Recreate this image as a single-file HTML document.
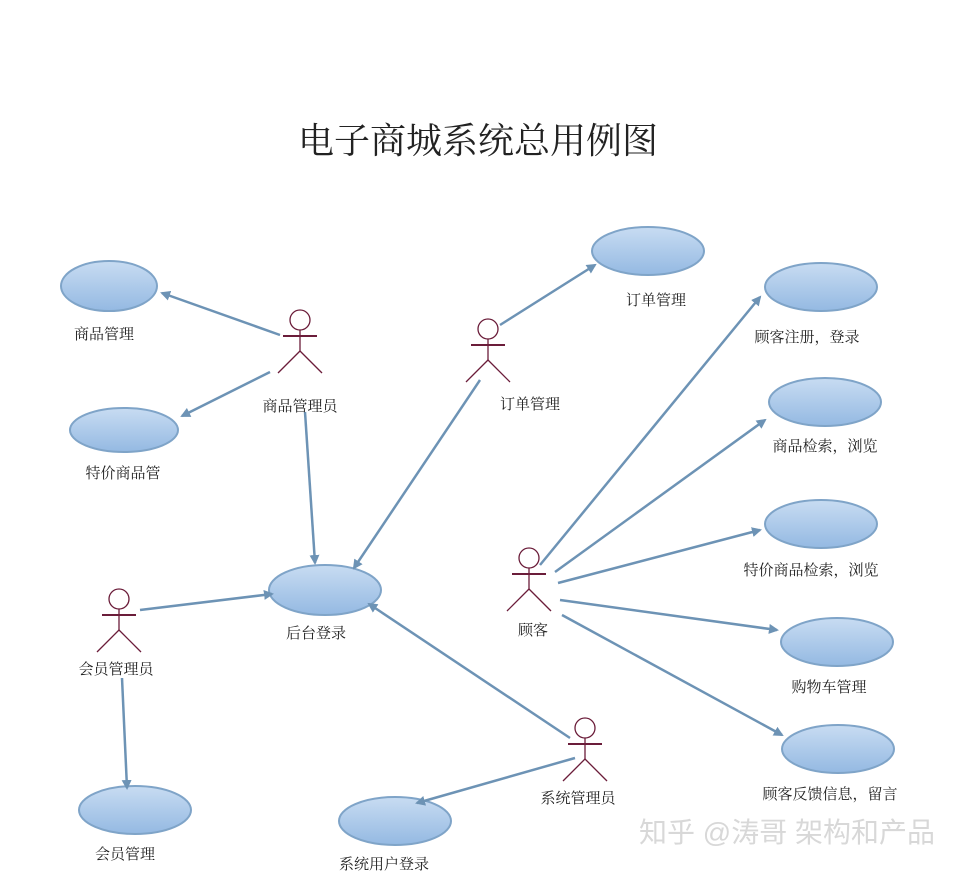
<!DOCTYPE html>
<html><head><meta charset="utf-8"><style>
body{margin:0;background:#fff;}
svg{display:block;}
text{font-family:"Liberation Serif","Noto Serif CJK SC",serif;fill:#222;}
</style></head><body>
<svg width="959" height="871" viewBox="0 0 959 871" xmlns="http://www.w3.org/2000/svg">
<defs>
<linearGradient id="g" x1="0" y1="0" x2="0" y2="1"><stop offset="0" stop-color="#c8dcf2"/><stop offset="1" stop-color="#94b9e2"/></linearGradient>
<marker id="a" markerWidth="10" markerHeight="10" refX="8" refY="5" orient="auto" markerUnits="userSpaceOnUse"><path d="M0,0 L10,5 L0,10 z" fill="#6d93b5"/></marker>
<g id="actor" stroke="#6b1d3a" stroke-width="1.3" fill="none">
<circle cx="0" cy="0" r="10"/><line x1="0" y1="10" x2="0" y2="31"/><line x1="-17" y1="16" x2="17" y2="16" stroke-width="2"/><line x1="0" y1="31" x2="-22" y2="53"/><line x1="0" y1="31" x2="22" y2="53"/></g>
</defs>
<text x="478" y="153" font-size="36" text-anchor="middle">电子商城系统总用例图</text>
<g fill="url(#g)" stroke="#7fa4c8" stroke-width="2">
<ellipse cx="109" cy="286" rx="48" ry="25"/>
<ellipse cx="124" cy="430" rx="54" ry="22"/>
<ellipse cx="648" cy="251" rx="56" ry="24"/>
<ellipse cx="821" cy="287" rx="56" ry="24"/>
<ellipse cx="825" cy="402" rx="56" ry="24"/>
<ellipse cx="821" cy="524" rx="56" ry="24"/>
<ellipse cx="837" cy="642" rx="56" ry="24"/>
<ellipse cx="838" cy="749" rx="56" ry="24"/>
<ellipse cx="325" cy="590" rx="56" ry="25"/>
<ellipse cx="135" cy="810" rx="56" ry="24"/>
<ellipse cx="395" cy="821" rx="56" ry="24"/>
</g>
<g stroke="#6d93b5" stroke-width="2.5" marker-end="url(#a)">
<line x1="280" y1="335" x2="162" y2="293"/>
<line x1="270" y1="372" x2="182" y2="416"/>
<line x1="305" y1="412" x2="315" y2="563"/>
<line x1="480" y1="380" x2="354" y2="568"/>
<line x1="500" y1="325" x2="595" y2="265"/>
<line x1="140" y1="610" x2="272" y2="594"/>
<line x1="122" y1="678" x2="127" y2="788"/>
<line x1="570" y1="738" x2="369" y2="604"/>
<line x1="575" y1="758" x2="417" y2="803"/>
<line x1="540" y1="565" x2="760" y2="297"/>
<line x1="555" y1="572" x2="765" y2="420"/>
<line x1="558" y1="583" x2="760" y2="530"/>
<line x1="560" y1="600" x2="777" y2="630"/>
<line x1="562" y1="615" x2="782" y2="735"/>
</g>
<use href="#actor" x="300" y="320"/>
<use href="#actor" x="488" y="329"/>
<use href="#actor" x="529" y="558"/>
<use href="#actor" x="119" y="599"/>
<use href="#actor" x="585" y="728"/>
<g font-size="15">
<text x="104" y="339" text-anchor="middle">商品管理</text>
<text x="123" y="478" text-anchor="middle">特价商品管</text>
<text x="300" y="411" text-anchor="middle">商品管理员</text>
<text x="530" y="409" text-anchor="middle">订单管理</text>
<text x="656" y="305" text-anchor="middle">订单管理</text>
<text x="807" y="342" text-anchor="middle">顾客注册，登录</text>
<text x="825" y="451" text-anchor="middle">商品检索，浏览</text>
<text x="811" y="575" text-anchor="middle">特价商品检索，浏览</text>
<text x="829" y="692" text-anchor="middle">购物车管理</text>
<text x="830" y="799" text-anchor="middle">顾客反馈信息，留言</text>
<text x="533" y="635" text-anchor="middle">顾客</text>
<text x="316" y="638" text-anchor="middle">后台登录</text>
<text x="116" y="674" text-anchor="middle">会员管理员</text>
<text x="578" y="803" text-anchor="middle">系统管理员</text>
<text x="125" y="859" text-anchor="middle">会员管理</text>
<text x="384" y="869" text-anchor="middle">系统用户登录</text>
</g>
<text x="787" y="842" font-size="28" text-anchor="middle" style="fill:#d8d8d8;font-family:'Liberation Sans','Noto Sans CJK SC',sans-serif">知乎 @涛哥 架构和产品</text>
</svg>
</body></html>
